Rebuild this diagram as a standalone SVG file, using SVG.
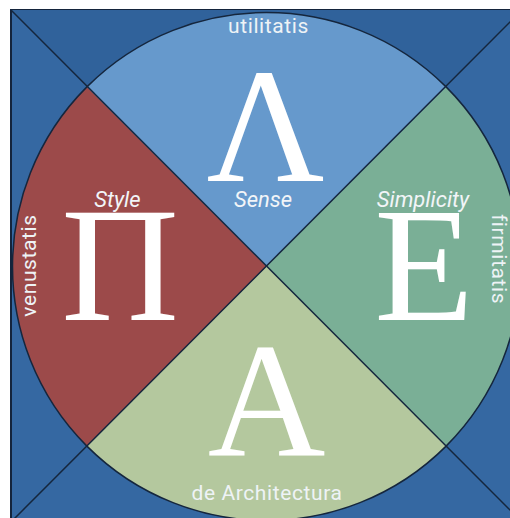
<svg xmlns="http://www.w3.org/2000/svg" width="510" height="518" viewBox="0 0 510 518">
<style>
.big{font-family:"Liberation Serif","Times New Roman",serif;font-size:163px;fill:#ffffff;text-anchor:middle}
.lab{font-family:Roboto,"Liberation Sans",sans-serif;font-size:21px;letter-spacing:0.6px;fill:#eef3f6;text-anchor:middle}
.it{font-family:Roboto,"Liberation Sans",sans-serif;font-style:italic;font-size:22px;fill:#f2f5f8;text-anchor:middle}
.edge{stroke:#15263d;stroke-width:1.5;fill:none}
</style>
<rect x="0" y="0" width="510" height="518" fill="#ffffff"/>
<g id="frame">
<rect x="11" y="10" width="511" height="512" fill="#3568a2" stroke="#14243c" stroke-width="2"/>
<polygon points="11,10 522,10 266.5,266.5" fill="#30629b"/>
</g>
<g id="utilitatis">
<path d="M266.5,266.5 L86.9,86.9 A254,254 0 0 1 446.1,86.9 Z" fill="#6699cc"/>
<text class="big" x="265.5" y="181">Λ</text>
<text class="it" x="263" y="207">Sense</text>
<text class="lab" x="268.5" y="33">utilitatis</text>
</g>
<g id="firmitatis">
<path d="M266.5,266.5 L446.1,86.9 A254,254 0 0 1 446.1,446.1 Z" fill="#7aaf96"/>
<text class="big" x="424" y="320">E</text>
<text class="it" x="423" y="207">Simplicity</text>
<text class="lab" transform="translate(492,259) rotate(90)" x="0" y="0">firmitatis</text>
</g>
<g id="de-architectura">
<path d="M266.5,266.5 L446.1,446.1 A254,254 0 0 1 86.9,446.1 Z" fill="#b4c89e"/>
<text class="big" x="266.5" y="455">A</text>
<text class="lab" x="267" y="500">de Architectura</text>
</g>
<g id="venustatis">
<path d="M266.5,266.5 L86.9,446.1 A254,254 0 0 1 86.9,86.9 Z" fill="#9c4a4a"/>
<text class="big" x="120" y="320">Π</text>
<text class="it" x="117.5" y="207">Style</text>
<text class="lab" transform="translate(36,265.5) rotate(-90)" x="0" y="0">venustatis</text>
</g>
<g id="connectors">
<line class="edge" x1="11" y1="10" x2="522" y2="522"/>
<line class="edge" x1="522" y1="10" x2="11" y2="522"/>
<circle class="edge" cx="266.5" cy="266.5" r="254"/>
</g>
</svg>
